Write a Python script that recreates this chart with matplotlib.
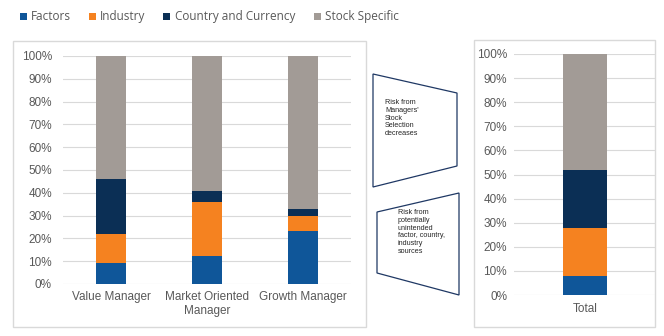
import matplotlib
matplotlib.use("Agg")
import matplotlib.pyplot as plt
from matplotlib.patches import Rectangle, Polygon
from matplotlib.ticker import PercentFormatter
import numpy as np

W, H = 664, 336

# ---- data ----
series = ["Factors", "Industry", "Country and Currency", "Stock Specific"]
colors = ["#0F5699", "#F58220", "#0B2F55", "#A29B96"]

managers = ["Value Manager", "Market Oriented\nManager", "Growth Manager"]
factors = [9.3, 12.4, 23.4]
industry = [12.7, 23.6, 6.6]
country = [24.0, 5.0, 3.0]
stock = [54.0, 59.0, 67.0]

total_label = ["Total"]
total_factors = [8.0]
total_industry = [20.0]
total_country = [24.0]
total_stock = [48.0]

yticks = [0, 10, 20, 30, 40, 50, 60, 70, 80, 90, 100]

note_top = "Risk from\nManagers'\nStock\nSelection\ndecreases"
note_bottom = "Risk from\npotentially\nunintended\nfactor, country,\nindustry\nsources"

# ---- figure ----
fig = plt.figure(figsize=(W / 100, H / 100), dpi=100)
fig.patch.set_facecolor("white")

def fx(x):
    return x / W

def fy(y):
    return 1 - y / H

def add_axes_px(x0, y0, x1, y1):
    return fig.add_axes([fx(x0), fy(y1), (x1 - x0) / W, (y1 - y0) / H])

grid_c = "#D9D9D9"
text_c = "#595959"
tick_font = dict(family=["Liberation Sans", "DejaVu Sans"], size=8.5, color=text_c)

def stacked(ax, labels, segs, width, ypad, xpad):
    x = np.arange(len(labels))
    bottom = np.zeros(len(labels))
    for vals, c in zip(segs, colors):
        v = np.array(vals, dtype=float)
        ax.bar(x, v, width=width, bottom=bottom, color=c, zorder=3, linewidth=0)
        bottom += v
    ax.set_xlim(-0.5, len(labels) - 0.5)
    ax.set_ylim(0, 100)
    ax.set_yticks(yticks)
    ax.yaxis.set_major_formatter(PercentFormatter(decimals=0))
    ax.set_xticks(x)
    ax.set_xticklabels(labels, linespacing=1.25)
    for s in ax.spines.values():
        s.set_visible(False)
    ax.grid(axis="y", color=grid_c, linewidth=0.8, zorder=0)
    ax.set_axisbelow(True)
    ax.tick_params(axis="both", length=0)
    ax.tick_params(axis="y", pad=ypad)
    ax.tick_params(axis="x", pad=xpad)
    for t in ax.get_xticklabels() + ax.get_yticklabels():
        t.set_fontfamily(tick_font["family"])
        t.set_fontsize(tick_font["size"])
        t.set_color(tick_font["color"])
    ax.set_facecolor("none")

# frames
fig.patches.append(Rectangle((fx(13), fy(327)), (366 - 13) / W, (327 - 41) / H,
                             transform=fig.transFigure, fill=False,
                             edgecolor=grid_c, linewidth=1.0))
fig.patches.append(Rectangle((fx(474), fy(327)), (655 - 474) / W, (327 - 40) / H,
                             transform=fig.transFigure, fill=False,
                             edgecolor=grid_c, linewidth=1.0))

ax1 = add_axes_px(63, 56, 351, 284)
stacked(ax1, managers, [factors, industry, country, stock], 0.3125, 8, 5)

ax2 = add_axes_px(514, 54, 656, 295)
stacked(ax2, total_label, [total_factors, total_industry, total_country, total_stock], 0.31, 5, 6)

# legend
leg_sq = [20, 89, 163, 314]
leg_tx = [31, 100, 175, 325]
for sx, tx, lab, c in zip(leg_sq, leg_tx, series, colors):
    fig.patches.append(Rectangle((fx(sx), fy(20)), 6.5 / W, 6.5 / H,
                                 transform=fig.transFigure, color=c, linewidth=0))
    fig.text(fx(tx), fy(16.5), lab, ha="left", va="center",
             family=["Open Sans", "DejaVu Sans"], fontsize=8.5, color=text_c)

# shapes
navy = "#1F3864"
poly1 = [(373, 74), (457, 93), (457, 166), (373, 187)]
poly2 = [(377, 212), (459, 193), (459, 295), (377, 273)]
for p in (poly1, poly2):
    fig.patches.append(Polygon([(fx(a), fy(b)) for a, b in p], closed=True,
                               transform=fig.transFigure, fill=False,
                               edgecolor=navy, linewidth=0.9))

fig.text(fx(385), fy(99), note_top, ha="left", va="top",
         family=["Liberation Sans", "DejaVu Sans"], fontsize=5.2,
         color="#262626", linespacing=1.15)
fig.text(fx(398), fy(209), note_bottom, ha="left", va="top",
         family=["Liberation Sans", "DejaVu Sans"], fontsize=5.2,
         color="#262626", linespacing=1.15)

fig.savefig("out.png", dpi=100, facecolor="white")
